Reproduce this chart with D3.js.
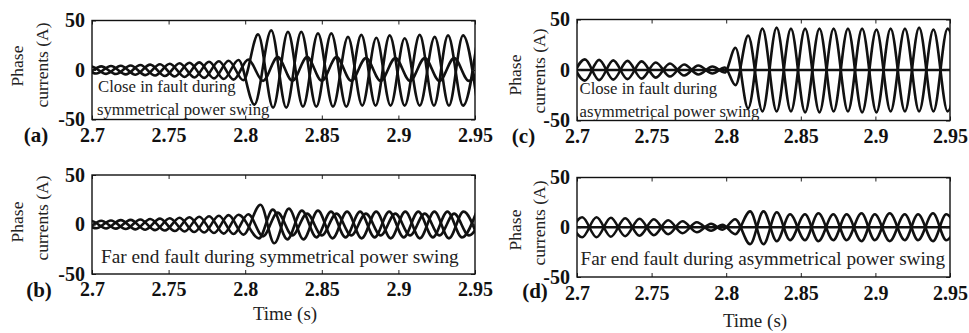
<!DOCTYPE html>
<html>
<head>
<meta charset="utf-8">
<script src="https://cdn.jsdelivr.net/npm/d3@7"></script>
<style>
  html, body { margin: 0; padding: 0; background: #fff; }
  svg { display: block; font-family: "Liberation Serif", "Times New Roman", serif; }
</style>
</head>
<body>
<svg id="chart" width="969" height="333"></svg>
<script>
// ---- Axis ticks and labels ----
const timeTicks = [2.7, 2.75, 2.8, 2.85, 2.9, 2.95];
const timeTickLabels = ["2.7", "2.75", "2.8", "2.85", "2.9", "2.95"];
const currentTicks = [-50, 0, 50];
const currentTickLabels = ["-50", "0", "50"];
const panelLetters = ["(a)", "(b)", "(c)", "(d)"];
const panelCaptions = [
  ["Close in fault during", "symmetrical power swing"],
  ["Far end fault during symmetrical power swing"],
  ["Close in fault during", "asymmetrical power swing"],
  ["Far end fault during asymmetrical power swing"]
];

// ---- Phase currents: successive peaks/troughs [time (s), current (A)] ----
// (a) close-in fault, symmetrical swing
const symCloseA = [[2.6932,3.4],[2.7028,-3.6],[2.7124,4.0],[2.7220,-4.4],[2.7316,5.0],[2.7412,-5.6],[2.7508,6.3],[2.7604,-7.0],[2.7700,7.7],[2.7796,-8.5],[2.7892,9.4],[2.7988,-10.4],
  [2.8084,36],[2.8182,-38],[2.8279,38.5],[2.8377,-37],[2.8475,37],[2.8573,-37],[2.8671,33.5],[2.8764,-36],[2.8856,32.5],[2.8949,-36],[2.9041,32],[2.9139,-36],[2.9237,33.5],[2.9330,-36],[2.9422,35],[2.9517,-36]];
const symCloseB = [[2.6900,-3.3],[2.6996,3.5],[2.7092,-3.9],[2.7188,4.3],[2.7284,-4.8],[2.7380,5.4],[2.7476,-6.1],[2.7572,6.8],[2.7668,-7.5],[2.7764,8.3],[2.7860,-9.1],[2.7956,10.1],
  [2.8060,-35],[2.8170,40],[2.8268,-38],[2.8366,38.5],[2.8464,-37],[2.8562,37],[2.8660,-37],[2.8758,35.5],[2.8851,-36],[2.8943,35],[2.9041,-36],[2.9139,35.5],[2.9232,-36],[2.9324,35],[2.9422,-36],[2.9519,35]];
const symCloseC = [[2.6868,3.2],[2.6964,-3.4],[2.7060,3.7],[2.7156,-4.1],[2.7252,4.6],[2.7348,-5.2],[2.7444,5.8],[2.7540,-6.5],[2.7636,7.3],[2.7732,-8.0],[2.7828,8.9],[2.7924,-9.7],[2.8020,10.5],
  [2.8116,-11],[2.8212,13],[2.8308,-11],[2.8404,13],[2.8500,-11],[2.8596,13],[2.8692,-11],[2.8788,12],[2.8884,-11],[2.8980,12],[2.9076,-11],[2.9172,12],[2.9268,-11],[2.9364,12],[2.9460,-11],[2.9556,12]];

// (b) far end fault, symmetrical swing
const symFarA = [[2.6932,3.6],[2.7028,-3.8],[2.7124,4.1],[2.7220,-4.6],[2.7316,5.1],[2.7412,-5.7],[2.7508,6.3],[2.7604,-7.0],[2.7700,7.8],[2.7796,-8.6],[2.7892,9.5],[2.7988,-10.2],
  [2.8100,20],[2.8190,-19],[2.8285,16],[2.8380,-15],[2.8475,14],[2.8570,-14],[2.8665,13],[2.8760,-14],[2.8855,13],[2.8950,-14],[2.9045,13],[2.9140,-14],[2.9235,13],[2.9330,-14],[2.9425,13],[2.9520,-14]];
const symFarB = [[2.6900,-3.4],[2.6996,3.6],[2.7092,-4.0],[2.7188,4.4],[2.7284,-4.9],[2.7380,5.5],[2.7476,-6.1],[2.7572,6.8],[2.7668,-7.6],[2.7764,8.4],[2.7860,-9.2],[2.7956,9.8],
  [2.8090,-14],[2.8180,15],[2.8275,-15],[2.8370,14],[2.8465,-13],[2.8560,13],[2.8655,-13],[2.8750,13],[2.8845,-13],[2.8940,13],[2.9035,-13],[2.9130,13],[2.9225,-13],[2.9320,13],[2.9415,-13],[2.9510,13]];
const symFarC = [[2.6868,3.3],[2.6964,-3.5],[2.7060,3.8],[2.7156,-4.2],[2.7252,4.7],[2.7348,-5.3],[2.7444,5.9],[2.7540,-6.6],[2.7636,7.3],[2.7732,-8.1],[2.7828,8.9],[2.7924,-9.6],[2.8020,10.4],
  [2.8116,-12],[2.8212,12],[2.8308,-11],[2.8404,11],[2.8500,-11],[2.8596,11],[2.8692,-11],[2.8788,11],[2.8884,-11],[2.8980,11],[2.9076,-11],[2.9172,11],[2.9268,-11],[2.9364,11],[2.9460,-11],[2.9556,11]];

// (c) close-in fault, asymmetrical swing (one pole open)
const asymCloseA = [[2.69,0],[2.96,0]];
const asymCloseB = [[2.6958,-10.5],[2.7053,10.5],[2.7148,-10],[2.7243,9.5],[2.7338,-9],[2.7433,8.5],[2.7528,-7.5],[2.7623,6.5],[2.7718,-5.5],[2.7813,4.5],[2.7908,-3.5],[2.7990,2.5],
  [2.8062,-15],[2.8147,34],[2.8243,-41],[2.8338,42],[2.8434,-41],[2.8529,41],[2.8625,-42],[2.8720,41],[2.8816,-41],[2.8911,41],[2.9007,-42],[2.9102,41],[2.9198,-41],[2.9293,42],[2.9389,-41],[2.9484,41],[2.9580,-41]];
const asymCloseC = [[2.6958,10.5],[2.7053,-10.5],[2.7148,10],[2.7243,-9.5],[2.7338,9],[2.7433,-8.5],[2.7528,7.5],[2.7623,-6.5],[2.7718,5.5],[2.7813,-4.5],[2.7908,3.5],[2.7990,-2.5],
  [2.8062,22],[2.8147,-38],[2.8243,41],[2.8338,-41],[2.8434,41],[2.8529,-42],[2.8625,41],[2.8720,-41],[2.8816,41],[2.8911,-42],[2.9007,40],[2.9102,-41],[2.9198,41],[2.9293,-41],[2.9389,40],[2.9484,-41],[2.9580,41]];

// (d) far end fault, asymmetrical swing (one pole open)
const asymFarA = [[2.69,0],[2.96,0]];
const asymFarB = [[2.6939,-10],[2.7035,10],[2.7131,-10],[2.7227,9.5],[2.7323,-9],[2.7419,8.5],[2.7515,-8],[2.7611,7],[2.7707,-6],[2.7803,5],[2.7899,-3.5],[2.7975,2.5],
  [2.8060,-7],[2.8160,16],[2.8250,-17],[2.8339,15],[2.8428,-13],[2.8528,13],[2.8618,-14],[2.8718,13],[2.8807,-13],[2.8907,14],[2.8996,-13],[2.9096,14],[2.9197,-13],[2.9286,13],[2.9386,-14],[2.9475,13],[2.9570,-13]];
const asymFarC = [[2.6939,10],[2.7035,-10],[2.7131,10],[2.7227,-9.5],[2.7323,9],[2.7419,-8.5],[2.7515,8],[2.7611,-7],[2.7707,6],[2.7803,-5],[2.7899,3.5],[2.7975,-2.5],
  [2.8060,8],[2.8160,-17],[2.8250,16],[2.8339,-14],[2.8428,13],[2.8528,-13],[2.8618,14],[2.8718,-13],[2.8807,13],[2.8907,-14],[2.8996,13],[2.9096,-14],[2.9197,13],[2.9286,-13],[2.9386,14],[2.9475,-13],[2.9570,13]];

const panelSeries = [
  [symCloseA, symCloseB, symCloseC],
  [symFarA, symFarB, symFarC],
  [asymCloseA, asymCloseB, asymCloseC],
  [asymFarA, asymFarB, asymFarC]
];

// ---- Layout of the four panels ----
const panels = [
  { box: [92, 20.5, 475, 119.5], tickBase: 8, letter: [36, 142], ylab: [23, 48, 66, 65], cap: [[98, 92, 16.7], [97, 115, 16.7]] },
  { box: [92, 175, 475, 274], tickBase: 8, letter: [39, 297], ylab: [23, 48, 222, 218], cap: [[101, 262.5, 19.3]], time: [285, 320] },
  { box: [577, 19.5, 950, 120.5], tickBase: 8.5, letter: [523.5, 143], ylab: [521, 545, 75, 71], cap: [[579.5, 93.5, 16.7], [579.5, 116.5, 16.7]] },
  { box: [577, 177.5, 950, 277], tickBase: 8.5, letter: [535, 298], ylab: [521, 545, 230, 223], cap: [[580.5, 265, 19.2]], time: [755, 327] }
];

const svg = d3.select("#chart");
svg.append("rect").attr("width", 969).attr("height", 333).attr("fill", "#fff");

panels.forEach((p, i) => {
  const [x0, y0, x1, y1] = p.box;
  const x = d3.scaleLinear().domain([2.7, 2.95]).range([x0, x1]);
  const y = d3.scaleLinear().domain([-50, 50]).range([y1, y0]);
  const g = svg.append("g");

  const clipId = "clip" + i;
  svg.append("clipPath").attr("id", clipId)
    .append("rect").attr("x", x0).attr("y", y0).attr("width", x1 - x0).attr("height", y1 - y0);

  // waveforms through the recorded peaks
  const line = d3.line().x(d => x(d[0])).y(d => y(d[1])).curve(d3.curveMonotoneX);
  g.append("g").attr("clip-path", `url(#${clipId})`)
    .selectAll("path").data(panelSeries[i]).join("path")
    .attr("d", line)
    .attr("fill", "none").attr("stroke", "#111").attr("stroke-width", 2.6)
    .attr("stroke-linejoin", "round");

  // captions inside the axes
  p.cap.forEach((c, k) => {
    g.append("text").attr("x", c[0]).attr("y", c[1])
      .attr("font-size", c[2]).attr("fill", "#222")
      .text(panelCaptions[i][k]);
  });

  // axes: ticks point inward on all four sides
  const bottom = g.append("g").attr("transform", `translate(0,${y1})`)
    .call(d3.axisBottom(x).tickValues(timeTicks).tickSize(-4).tickPadding(p.tickBase)
      .tickFormat((d, k) => timeTickLabels[k]));
  const top = g.append("g").attr("transform", `translate(0,${y0})`)
    .call(d3.axisTop(x).tickValues(timeTicks).tickSize(-4).tickFormat(""));
  const left = g.append("g").attr("transform", `translate(${x0},0)`)
    .call(d3.axisLeft(y).tickValues(currentTicks).tickSize(-4).tickPadding(7)
      .tickFormat((d, k) => currentTickLabels[k]));
  const right = g.append("g").attr("transform", `translate(${x1},0)`)
    .call(d3.axisRight(y).tickValues(currentTicks).tickSize(-4).tickFormat(""));

  [bottom, top, left, right].forEach(a => {
    a.attr("font-family", null);
    a.select(".domain").remove();
    a.selectAll("line").attr("stroke", "#222").attr("stroke-width", 1);
    a.selectAll("text").attr("font-size", 20).attr("font-weight", "bold").attr("fill", "#111");
  });

  // frame
  g.append("rect").attr("x", x0).attr("y", y0).attr("width", x1 - x0).attr("height", y1 - y0)
    .attr("fill", "none").attr("stroke", "#111").attr("stroke-width", 1.4);

  // panel letter
  g.append("text").attr("x", p.letter[0]).attr("y", p.letter[1])
    .attr("text-anchor", "middle").attr("font-size", 21).attr("font-weight", "bold")
    .attr("fill", "#111").text(panelLetters[i]);

  // y-axis title on two lines
  const [bx1, bx2, cy1, cy2] = p.ylab;
  g.append("text").attr("transform", `translate(${bx1},${cy1}) rotate(-90)`)
    .attr("text-anchor", "middle").attr("font-size", 17.5).attr("fill", "#222").text("Phase");
  g.append("text").attr("transform", `translate(${bx2},${cy2}) rotate(-90)`)
    .attr("text-anchor", "middle").attr("font-size", 17.5).attr("fill", "#222").text("currents (A)");

  // x-axis title
  if (p.time) {
    g.append("text").attr("x", p.time[0]).attr("y", p.time[1])
      .attr("text-anchor", "middle").attr("font-size", 19).attr("fill", "#222").text("Time (s)");
  }
});
</script>
</body>
</html>
